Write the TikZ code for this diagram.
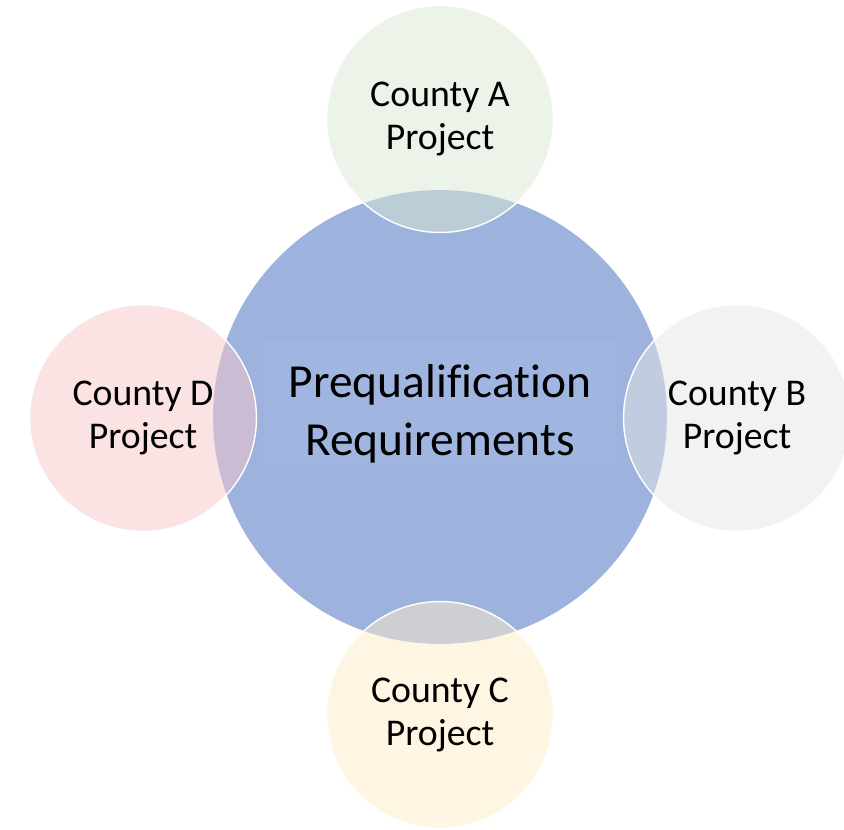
\documentclass[tikz,border=0pt]{standalone}
\usepackage{fontspec}
\setmainfont[Ligatures=NoCommon]{Carlito}

\definecolor{reqblue}{RGB}{157,179,222}
\definecolor{countya}{RGB}{217,231,209}
\definecolor{countyb}{RGB}{229,229,229}
\definecolor{countyc}{RGB}{253,235,199}
\definecolor{countyd}{RGB}{247,197,199}

\tikzset{
  req/.style={circle, fill=reqblue, minimum size=9.08cm, inner sep=0pt, outer sep=0pt},
  reqbox/.style={fill=reqblue!97!white, minimum width=7cm, minimum height=2.42cm},
  county/.style={circle, draw=white, line width=0.8pt, fill opacity=0.5, text opacity=1,
    minimum size=4.54cm, inner sep=0pt, outer sep=0pt, align=center,
    font=\fontsize{21.5}{24}\selectfont},
}

\begin{document}
\begin{tikzpicture}[x=0.02cm, y=-0.02cm]
            \useasboundingbox (0,0) rectangle (844,829);
            \clip (0,0) rectangle (844,829);
            \node[req] (req) at (440,417) {};
            \node[reqbox] (reqlabel) at (440,402) {};
            \node[font=\fontsize{27}{33}\selectfont, align=center] (reqtxt) at (440,414) {Prequalification\\Requirements};
            \node[county, fill=countya] (ca) at (440,119) {County A\\Project};
            \node[county, fill=countyb] (cb) at (737,418) {County B\\Project};
            \node[county, fill=countyc] (cc) at (440,715) {County C\\Project};
            \node[county, fill=countyd] (cd) at (143,418) {County D\\Project};
\end{tikzpicture}
\end{document}
